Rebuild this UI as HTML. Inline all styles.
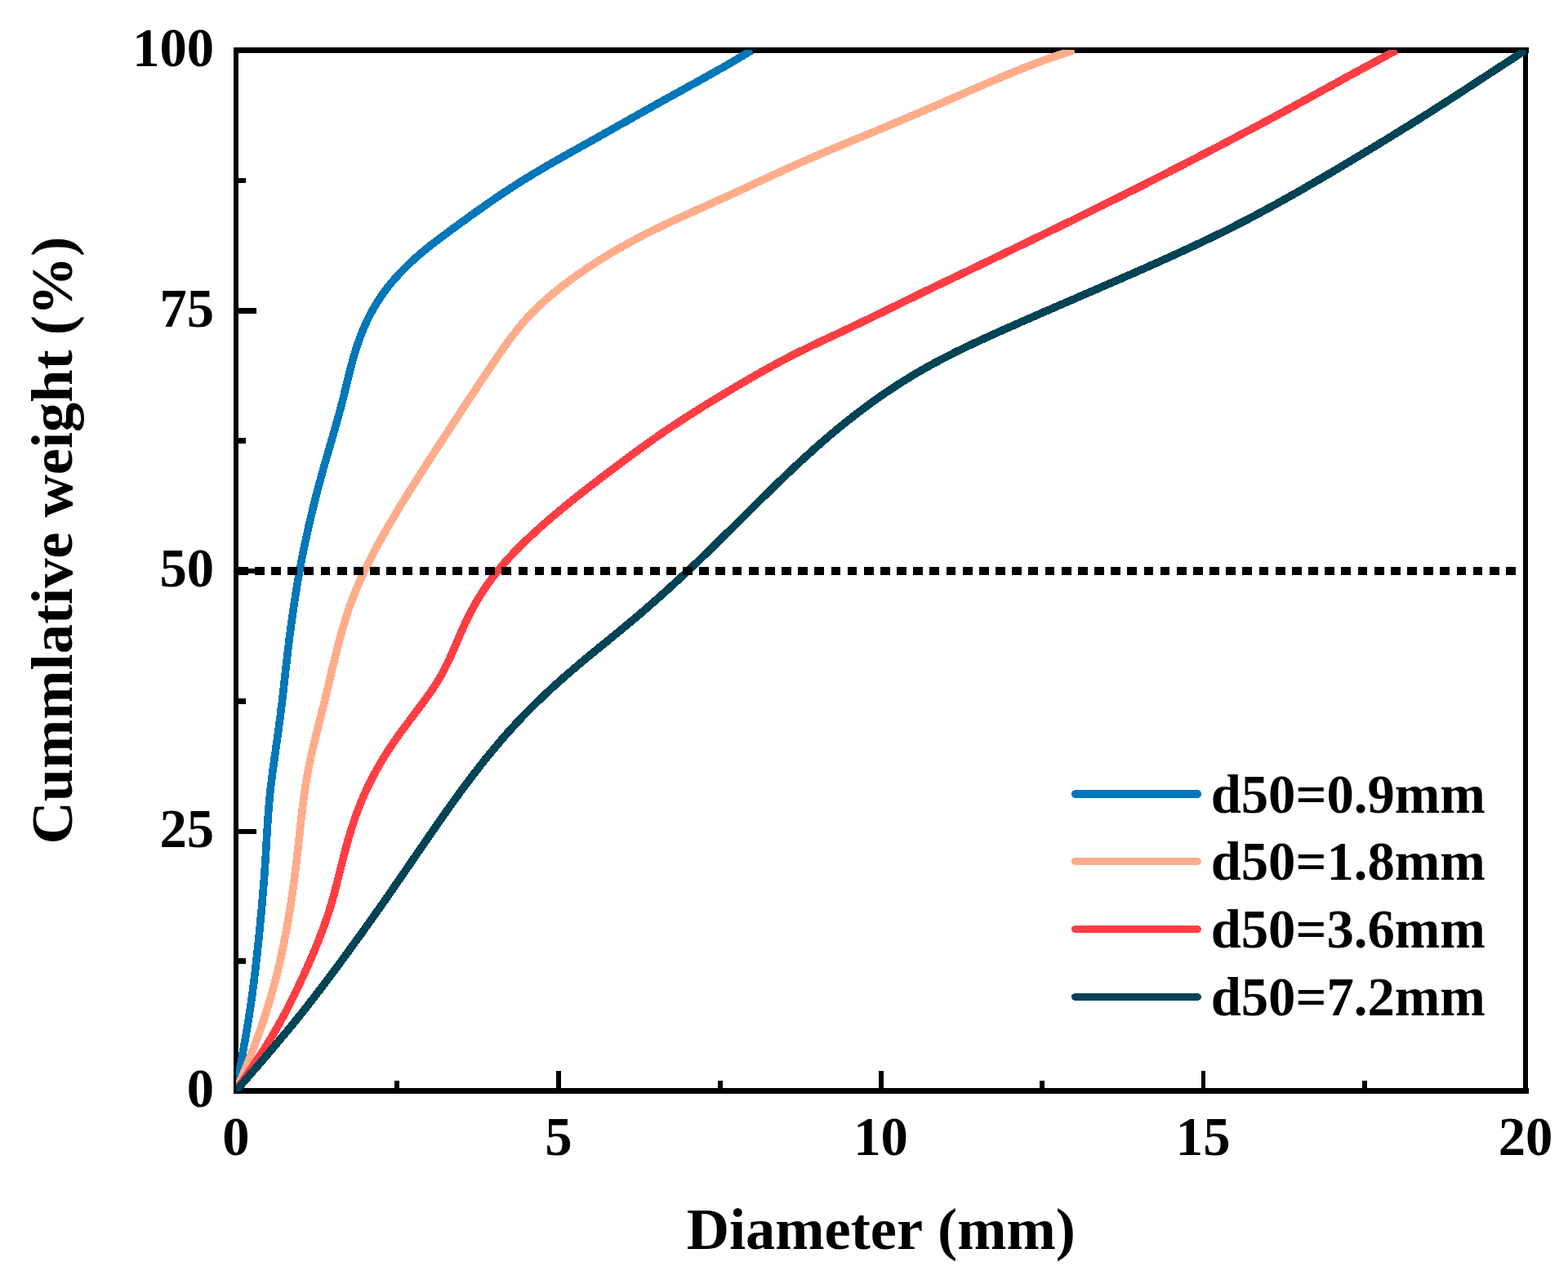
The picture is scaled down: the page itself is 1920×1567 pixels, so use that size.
<!DOCTYPE html>
<html lang="en">
<head>
<meta charset="utf-8">
<title>Cumulative weight vs diameter</title>
<style>
html,body{margin:0;padding:0;background:#fff;}
body{width:1920px;height:1567px;overflow:hidden;font-family:"Liberation Serif",serif;}
svg{display:block;}
</style>
</head>
<body>
<svg width="1920" height="1567" viewBox="0 0 1920 1567" role="img" aria-label="Cumulative weight versus particle diameter">
<defs><clipPath id="plot"><rect x="289" y="61" width="1580" height="1275"/></clipPath></defs>
<rect width="1920" height="1567" fill="#fff"/>
<g fill="#000" shape-rendering="crispEdges">
<rect x="286" y="58" width="1586" height="7"/>
<rect x="286" y="1332" width="1586" height="7"/>
<rect x="286" y="58" width="6" height="1281"/>
<rect x="1865" y="58" width="6" height="1281"/>
<rect x="483" y="1323" width="6" height="9"/>
<rect x="681" y="1311" width="6" height="21"/>
<rect x="879" y="1323" width="6" height="9"/>
<rect x="1076" y="1311" width="6" height="21"/>
<rect x="1273" y="1323" width="6" height="9"/>
<rect x="1471" y="1311" width="5" height="21"/>
<rect x="1668" y="1323" width="6" height="9"/>
<rect x="292" y="1173" width="9" height="7"/>
<rect x="292" y="1015" width="22" height="6"/>
<rect x="292" y="855" width="9" height="7"/>
<rect x="292" y="696" width="22" height="6"/>
<rect x="292" y="536" width="9" height="7"/>
<rect x="292" y="377" width="22" height="7"/>
<rect x="292" y="218" width="9" height="6"/>
</g>
<g clip-path="url(#plot)" fill="none" stroke-width="9.6" stroke-linejoin="round" stroke-linecap="butt" shape-rendering="crispEdges">
<path d="M287.6 1343.4 L289.0 1335.5 L290.0 1329.6 L291.1 1323.7 L292.1 1317.8 L293.2 1311.9 L294.2 1306.0 L295.3 1300.1 L296.4 1294.2 L297.4 1288.2 L298.5 1282.3 L299.5 1276.4 L300.6 1270.5 L301.6 1264.6 L302.6 1258.7 L303.6 1252.8 L304.5 1246.8 L305.4 1240.9 L306.4 1235.0 L307.2 1229.1 L308.1 1223.1 L308.9 1217.2 L309.7 1211.2 L310.5 1205.3 L311.2 1199.3 L311.9 1193.4 L312.6 1187.4 L313.3 1181.5 L314.0 1175.5 L314.7 1169.5 L315.3 1163.6 L315.9 1157.6 L316.6 1151.6 L317.2 1145.7 L317.8 1139.7 L318.4 1133.7 L318.9 1127.8 L319.5 1121.8 L320.1 1115.8 L320.6 1109.8 L321.1 1103.9 L321.6 1097.9 L322.1 1091.9 L322.6 1085.9 L323.1 1080.0 L323.5 1074.0 L324.0 1068.0 L324.4 1062.0 L324.8 1056.0 L325.2 1050.0 L325.5 1044.0 L325.9 1038.0 L326.2 1032.0 L326.6 1026.1 L326.9 1020.1 L327.3 1014.1 L327.7 1008.1 L328.1 1002.1 L328.5 996.1 L329.0 990.1 L329.5 984.2 L330.0 978.2 L330.6 972.2 L331.2 966.2 L331.9 960.3 L332.6 954.3 L333.4 948.4 L334.1 942.4 L335.0 936.5 L335.8 930.6 L336.6 924.6 L337.5 918.7 L338.3 912.7 L339.2 906.8 L340.0 900.9 L340.8 894.9 L341.6 889.0 L342.4 883.0 L343.2 877.1 L343.9 871.1 L344.6 865.1 L345.4 859.2 L346.1 853.2 L346.8 847.3 L347.4 841.3 L348.1 835.3 L348.8 829.4 L349.4 823.4 L350.1 817.5 L350.8 811.5 L351.5 805.5 L352.2 799.6 L352.9 793.6 L353.6 787.7 L354.3 781.7 L355.1 775.8 L355.9 769.8 L356.7 763.9 L357.5 757.9 L358.3 752.0 L359.2 746.1 L360.1 740.1 L361.0 734.2 L361.9 728.3 L362.9 722.4 L363.8 716.5 L364.8 710.5 L365.9 704.6 L366.9 698.7 L368.0 692.8 L369.1 686.9 L370.2 681.0 L371.4 675.2 L372.6 669.3 L373.8 663.4 L375.1 657.5 L376.4 651.7 L377.7 645.8 L379.0 640.0 L380.4 634.1 L381.8 628.3 L383.2 622.4 L384.6 616.6 L386.1 610.8 L387.6 605.0 L389.1 599.2 L390.6 593.4 L392.2 587.6 L393.8 581.8 L395.4 576.0 L397.0 570.2 L398.7 564.5 L400.3 558.7 L402.0 552.9 L403.7 547.2 L405.4 541.4 L407.0 535.6 L408.7 529.9 L410.3 524.1 L411.9 518.4 L413.6 512.6 L415.2 506.8 L416.7 501.0 L418.2 495.2 L419.8 489.4 L421.2 483.6 L422.6 477.7 L424.1 471.9 L425.5 466.1 L426.9 460.2 L428.4 454.4 L429.9 448.6 L431.4 442.8 L433.0 437.1 L434.7 431.3 L436.5 425.6 L438.4 419.9 L440.4 414.3 L442.6 408.6 L444.8 403.1 L447.2 397.6 L449.8 392.1 L452.4 386.8 L455.2 381.4 L458.2 376.2 L461.3 371.1 L464.5 366.0 L467.8 361.1 L471.3 356.2 L475.0 351.4 L478.7 346.7 L482.6 342.2 L486.6 337.7 L490.7 333.3 L494.9 329.0 L499.1 324.8 L503.5 320.6 L507.9 316.6 L512.4 312.6 L517.0 308.8 L521.6 304.9 L526.3 301.2 L531.0 297.5 L535.8 293.9 L540.6 290.2 L545.4 286.6 L550.2 283.1 L555.1 279.5 L560.0 276.0 L564.8 272.5 L569.7 268.9 L574.5 265.4 L579.4 261.9 L584.3 258.4 L589.2 255.0 L594.1 251.5 L599.0 248.1 L603.9 244.7 L608.9 241.3 L613.8 237.9 L618.8 234.6 L623.8 231.3 L628.9 228.1 L633.9 224.8 L639.0 221.6 L644.1 218.5 L649.2 215.3 L654.3 212.2 L659.5 209.2 L664.6 206.1 L669.8 203.1 L675.0 200.1 L680.2 197.1 L685.5 194.2 L690.7 191.2 L695.9 188.2 L701.2 185.3 L706.4 182.4 L711.7 179.4 L716.9 176.5 L722.1 173.6 L727.4 170.7 L732.6 167.7 L737.8 164.8 L743.1 161.8 L748.3 158.9 L753.5 156.0 L758.7 153.0 L764.0 150.1 L769.2 147.2 L774.4 144.2 L779.6 141.3 L784.9 138.3 L790.1 135.4 L795.3 132.5 L800.6 129.5 L805.8 126.6 L811.0 123.7 L816.3 120.8 L821.5 117.9 L826.8 115.0 L832.0 112.1 L837.3 109.2 L842.5 106.3 L847.8 103.4 L853.1 100.5 L858.3 97.6 L863.6 94.7 L868.8 91.7 L874.0 88.8 L879.3 85.8 L884.5 82.9 L889.7 79.9 L894.9 76.9 L900.1 73.9 L905.2 70.8 L910.4 67.7 L915.5 64.6 L920.6 61.5" stroke="#0077B8"/>
<path d="M285.8 1342.8 L289.0 1335.5 L291.4 1330.0 L293.7 1324.5 L296.1 1319.0 L298.4 1313.5 L300.6 1307.9 L302.9 1302.4 L305.1 1296.8 L307.3 1291.3 L309.5 1285.7 L311.6 1280.1 L313.7 1274.5 L315.8 1268.9 L317.8 1263.3 L319.8 1257.6 L321.7 1252.0 L323.6 1246.3 L325.5 1240.6 L327.3 1234.9 L329.0 1229.2 L330.7 1223.5 L332.4 1217.7 L334.0 1211.9 L335.6 1206.2 L337.1 1200.4 L338.6 1194.6 L340.0 1188.8 L341.4 1182.9 L342.8 1177.1 L344.1 1171.3 L345.4 1165.4 L346.6 1159.6 L347.8 1153.7 L348.9 1147.8 L350.1 1141.9 L351.2 1136.1 L352.2 1130.2 L353.2 1124.3 L354.2 1118.4 L355.2 1112.5 L356.1 1106.6 L357.0 1100.7 L357.9 1094.8 L358.7 1088.8 L359.5 1082.9 L360.3 1077.0 L361.1 1071.0 L361.8 1065.1 L362.6 1059.2 L363.3 1053.2 L363.9 1047.3 L364.6 1041.3 L365.3 1035.4 L365.9 1029.4 L366.6 1023.5 L367.2 1017.5 L367.8 1011.6 L368.5 1005.6 L369.2 999.7 L369.9 993.7 L370.6 987.8 L371.3 981.8 L372.1 975.9 L372.9 970.0 L373.8 964.1 L374.7 958.2 L375.7 952.3 L376.7 946.4 L377.8 940.5 L379.0 934.7 L380.2 928.8 L381.5 923.0 L382.9 917.1 L384.2 911.3 L385.6 905.5 L387.1 899.7 L388.5 893.9 L390.0 888.1 L391.4 882.3 L392.9 876.5 L394.4 870.6 L395.9 864.8 L397.3 859.0 L398.7 853.2 L400.1 847.4 L401.5 841.5 L402.9 835.7 L404.3 829.9 L405.6 824.0 L407.0 818.2 L408.4 812.4 L409.8 806.5 L411.2 800.7 L412.7 794.9 L414.2 789.1 L415.7 783.4 L417.2 777.6 L418.9 771.9 L420.5 766.1 L422.3 760.4 L424.1 754.7 L425.9 749.1 L427.8 743.4 L429.9 737.8 L432.0 732.2 L434.1 726.7 L436.4 721.2 L438.7 715.7 L441.1 710.2 L443.6 704.7 L446.1 699.3 L448.7 693.9 L451.4 688.5 L454.1 683.2 L456.8 677.9 L459.6 672.5 L462.5 667.2 L465.4 662.0 L468.3 656.7 L471.3 651.5 L474.2 646.3 L477.3 641.1 L480.3 635.9 L483.4 630.8 L486.4 625.6 L489.5 620.5 L492.6 615.4 L495.8 610.3 L498.9 605.2 L502.1 600.2 L505.3 595.1 L508.5 590.1 L511.7 585.0 L514.9 580.0 L518.1 575.0 L521.4 569.9 L524.6 564.9 L527.8 559.9 L531.1 554.9 L534.3 549.9 L537.6 544.9 L540.9 539.9 L544.1 534.9 L547.4 529.9 L550.6 524.9 L553.9 519.9 L557.2 514.9 L560.5 509.9 L563.7 504.9 L567.0 499.9 L570.3 494.9 L573.6 489.9 L576.9 484.9 L580.2 479.9 L583.5 474.9 L586.8 469.9 L590.1 464.9 L593.5 459.9 L596.8 454.9 L600.1 450.0 L603.5 445.0 L606.9 440.0 L610.2 435.1 L613.7 430.1 L617.1 425.2 L620.6 420.4 L624.1 415.6 L627.7 410.8 L631.4 406.1 L635.1 401.4 L638.9 396.8 L642.8 392.3 L646.8 387.9 L650.9 383.5 L655.1 379.3 L659.4 375.1 L663.8 371.0 L668.2 367.0 L672.7 363.0 L677.3 359.2 L682.0 355.4 L686.6 351.6 L691.4 348.0 L696.2 344.4 L701.0 340.8 L705.9 337.3 L710.8 333.9 L715.8 330.5 L720.7 327.1 L725.7 323.9 L730.7 320.6 L735.8 317.4 L740.9 314.3 L746.0 311.2 L751.1 308.1 L756.3 305.1 L761.4 302.2 L766.6 299.3 L771.9 296.4 L777.1 293.6 L782.4 290.8 L787.7 288.0 L793.1 285.3 L798.4 282.6 L803.8 280.0 L809.2 277.4 L814.6 274.8 L820.0 272.3 L825.4 269.7 L830.9 267.2 L836.3 264.7 L841.8 262.2 L847.2 259.8 L852.7 257.3 L858.1 254.8 L863.6 252.4 L869.1 249.9 L874.5 247.5 L880.0 245.0 L885.5 242.5 L890.9 240.1 L896.4 237.6 L901.8 235.1 L907.2 232.6 L912.6 230.1 L918.1 227.6 L923.5 225.0 L928.9 222.5 L934.4 220.0 L939.8 217.5 L945.2 215.0 L950.6 212.5 L956.1 210.0 L961.5 207.6 L967.0 205.1 L972.4 202.7 L977.9 200.2 L983.3 197.8 L988.8 195.4 L994.3 193.0 L999.8 190.7 L1005.3 188.3 L1010.8 186.0 L1016.3 183.6 L1021.8 181.3 L1027.3 179.0 L1032.9 176.7 L1038.4 174.4 L1043.9 172.1 L1049.5 169.8 L1055.0 167.5 L1060.5 165.2 L1066.1 162.9 L1071.6 160.7 L1077.1 158.4 L1082.7 156.1 L1088.2 153.8 L1093.7 151.4 L1099.2 149.1 L1104.8 146.8 L1110.2 144.5 L1115.8 142.1 L1121.3 139.8 L1126.8 137.4 L1132.2 135.1 L1137.8 132.7 L1143.2 130.3 L1148.7 128.0 L1154.2 125.6 L1159.7 123.2 L1165.2 120.8 L1170.7 118.5 L1176.2 116.1 L1181.7 113.7 L1187.1 111.3 L1192.6 108.9 L1198.1 106.5 L1203.6 104.2 L1209.1 101.8 L1214.6 99.4 L1220.1 97.1 L1225.6 94.7 L1231.1 92.4 L1236.7 90.1 L1242.2 87.8 L1247.8 85.6 L1253.3 83.3 L1258.9 81.2 L1264.5 79.0 L1270.0 76.9 L1275.6 74.8 L1281.3 72.7 L1286.9 70.7 L1292.5 68.8 L1298.2 66.9 L1303.9 65.0 L1309.6 63.2 L1315.3 61.5" stroke="#FFAC8B"/>
<path d="M284.4 1342.1 L289.0 1335.5 L292.4 1330.6 L295.8 1325.7 L299.2 1320.8 L302.6 1315.8 L305.9 1310.8 L309.3 1305.9 L312.6 1300.9 L315.9 1295.9 L319.2 1290.8 L322.5 1285.8 L325.7 1280.7 L328.8 1275.6 L332.0 1270.5 L335.0 1265.3 L338.1 1260.1 L341.0 1254.9 L343.9 1249.7 L346.8 1244.4 L349.6 1239.2 L352.4 1233.8 L355.1 1228.5 L357.8 1223.2 L360.4 1217.8 L363.1 1212.4 L365.6 1207.0 L368.2 1201.6 L370.7 1196.1 L373.2 1190.7 L375.6 1185.2 L378.1 1179.7 L380.5 1174.2 L382.9 1168.7 L385.2 1163.2 L387.5 1157.6 L389.7 1152.1 L391.9 1146.5 L394.1 1140.9 L396.2 1135.3 L398.2 1129.6 L400.1 1124.0 L402.0 1118.3 L403.9 1112.6 L405.6 1106.8 L407.2 1101.1 L408.9 1095.3 L410.4 1089.5 L411.9 1083.8 L413.4 1078.0 L414.9 1072.1 L416.3 1066.3 L417.8 1060.5 L419.2 1054.7 L420.7 1048.9 L422.2 1043.1 L423.7 1037.3 L425.3 1031.5 L427.0 1025.7 L428.7 1020.0 L430.4 1014.2 L432.3 1008.5 L434.2 1002.8 L436.2 997.2 L438.3 991.5 L440.5 986.0 L442.7 980.4 L445.1 974.9 L447.5 969.4 L450.0 964.0 L452.6 958.6 L455.3 953.2 L458.1 947.9 L460.9 942.7 L463.9 937.5 L466.9 932.3 L470.0 927.2 L473.2 922.1 L476.5 917.1 L479.8 912.1 L483.2 907.1 L486.6 902.2 L490.1 897.3 L493.6 892.4 L497.2 887.6 L500.8 882.8 L504.4 878.0 L508.1 873.2 L511.7 868.4 L515.3 863.6 L518.9 858.8 L522.4 854.0 L525.9 849.1 L529.3 844.2 L532.6 839.2 L535.8 834.2 L538.9 829.1 L541.8 823.9 L544.6 818.6 L547.2 813.3 L549.8 807.9 L552.3 802.4 L554.7 796.9 L557.1 791.4 L559.5 785.9 L561.9 780.3 L564.3 774.8 L566.7 769.3 L569.2 763.8 L571.8 758.4 L574.4 753.0 L577.2 747.6 L580.1 742.4 L583.0 737.2 L586.1 732.0 L589.3 727.0 L592.5 722.0 L595.9 717.0 L599.4 712.1 L602.9 707.3 L606.6 702.6 L610.3 697.9 L614.1 693.3 L618.0 688.8 L622.0 684.3 L626.0 679.9 L630.1 675.5 L634.3 671.2 L638.6 667.0 L642.9 662.8 L647.2 658.7 L651.6 654.6 L656.0 650.5 L660.5 646.5 L665.0 642.5 L669.5 638.6 L674.0 634.6 L678.6 630.8 L683.2 626.9 L687.8 623.1 L692.4 619.3 L697.1 615.5 L701.8 611.7 L706.4 608.0 L711.1 604.3 L715.8 600.6 L720.6 596.9 L725.3 593.2 L730.1 589.6 L734.8 585.9 L739.6 582.3 L744.4 578.7 L749.1 575.1 L754.0 571.5 L758.8 567.9 L763.5 564.3 L768.4 560.7 L773.2 557.2 L778.0 553.6 L782.9 550.1 L787.7 546.6 L792.6 543.1 L797.5 539.6 L802.4 536.1 L807.3 532.7 L812.2 529.3 L817.2 525.9 L822.2 522.6 L827.2 519.3 L832.2 516.0 L837.2 512.7 L842.2 509.5 L847.3 506.3 L852.4 503.1 L857.5 499.9 L862.5 496.7 L867.6 493.6 L872.8 490.5 L877.9 487.4 L883.0 484.3 L888.1 481.2 L893.3 478.1 L898.5 475.0 L903.6 471.9 L908.8 468.9 L914.0 465.9 L919.1 462.9 L924.3 459.9 L929.5 456.9 L934.8 454.0 L940.0 451.1 L945.2 448.2 L950.5 445.3 L955.8 442.5 L961.1 439.7 L966.4 436.9 L971.8 434.2 L977.1 431.5 L982.5 428.9 L987.9 426.3 L993.3 423.6 L998.7 421.1 L1004.1 418.5 L1009.5 415.9 L1015.0 413.4 L1020.4 410.9 L1025.8 408.3 L1031.3 405.8 L1036.7 403.2 L1042.1 400.7 L1047.5 398.1 L1052.9 395.5 L1058.3 392.9 L1063.7 390.3 L1069.1 387.7 L1074.5 385.1 L1079.9 382.5 L1085.3 379.8 L1090.7 377.2 L1096.1 374.6 L1101.5 371.9 L1106.8 369.3 L1112.2 366.7 L1117.6 364.1 L1123.0 361.4 L1128.4 358.8 L1133.8 356.2 L1139.2 353.6 L1144.6 351.0 L1150.0 348.4 L1155.4 345.8 L1160.8 343.2 L1166.2 340.7 L1171.6 338.1 L1177.0 335.5 L1182.5 332.9 L1187.9 330.3 L1193.3 327.7 L1198.7 325.1 L1204.1 322.5 L1209.5 319.9 L1214.9 317.3 L1220.3 314.7 L1225.7 312.1 L1231.1 309.5 L1236.5 306.9 L1241.9 304.3 L1247.3 301.7 L1252.7 299.1 L1258.1 296.4 L1263.5 293.8 L1268.8 291.2 L1274.2 288.6 L1279.6 286.0 L1285.0 283.3 L1290.4 280.7 L1295.8 278.1 L1301.2 275.4 L1306.5 272.8 L1311.9 270.2 L1317.3 267.5 L1322.7 264.9 L1328.1 262.2 L1333.4 259.6 L1338.8 256.9 L1344.2 254.2 L1349.6 251.6 L1354.9 248.9 L1360.3 246.2 L1365.7 243.6 L1371.0 240.9 L1376.4 238.2 L1381.7 235.5 L1387.1 232.9 L1392.5 230.2 L1397.8 227.5 L1403.2 224.8 L1408.5 222.1 L1413.9 219.4 L1419.2 216.7 L1424.5 213.9 L1429.9 211.2 L1435.2 208.5 L1440.6 205.8 L1445.9 203.1 L1451.2 200.3 L1456.6 197.6 L1461.9 194.8 L1467.2 192.1 L1472.5 189.3 L1477.9 186.6 L1483.2 183.8 L1488.5 181.0 L1493.8 178.3 L1499.1 175.5 L1504.4 172.7 L1509.7 169.9 L1515.0 167.1 L1520.3 164.3 L1525.6 161.5 L1530.9 158.7 L1536.2 155.9 L1541.5 153.1 L1546.8 150.2 L1552.1 147.4 L1557.4 144.6 L1562.7 141.7 L1567.9 138.9 L1573.2 136.0 L1578.5 133.2 L1583.7 130.3 L1589.0 127.4 L1594.3 124.5 L1599.5 121.7 L1604.8 118.8 L1610.0 115.9 L1615.3 113.0 L1620.5 110.1 L1625.8 107.2 L1631.1 104.4 L1636.3 101.5 L1641.6 98.6 L1646.8 95.7 L1652.1 92.8 L1657.3 90.0 L1662.6 87.1 L1667.9 84.2 L1673.1 81.4 L1678.4 78.5 L1683.7 75.7 L1689.0 72.8 L1694.2 70.0 L1699.5 67.1 L1704.8 64.3 L1710.1 61.5" stroke="#FF3E44"/>
<path d="M283.8 1341.6 L289.0 1335.5 L292.9 1331.0 L296.8 1326.4 L300.7 1321.9 L304.6 1317.4 L308.6 1312.8 L312.5 1308.3 L316.4 1303.8 L320.3 1299.3 L324.2 1294.7 L328.1 1290.2 L332.0 1285.6 L335.9 1281.1 L339.7 1276.5 L343.6 1271.9 L347.4 1267.3 L351.2 1262.7 L355.0 1258.1 L358.8 1253.5 L362.6 1248.8 L366.3 1244.2 L370.1 1239.5 L373.8 1234.8 L377.4 1230.1 L381.1 1225.4 L384.8 1220.6 L388.4 1215.9 L392.1 1211.1 L395.7 1206.4 L399.3 1201.6 L402.9 1196.8 L406.5 1192.0 L410.1 1187.2 L413.6 1182.4 L417.2 1177.6 L420.7 1172.8 L424.3 1168.0 L427.8 1163.1 L431.3 1158.3 L434.8 1153.4 L438.4 1148.6 L441.9 1143.7 L445.4 1138.9 L448.8 1134.0 L452.3 1129.1 L455.8 1124.3 L459.2 1119.4 L462.7 1114.5 L466.1 1109.6 L469.6 1104.7 L473.0 1099.8 L476.4 1094.9 L479.8 1090.0 L483.2 1085.0 L486.6 1080.1 L490.0 1075.2 L493.4 1070.3 L496.8 1065.3 L500.2 1060.4 L503.6 1055.5 L506.9 1050.5 L510.3 1045.6 L513.7 1040.7 L517.1 1035.8 L520.5 1030.8 L523.9 1025.9 L527.3 1021.0 L530.7 1016.1 L534.1 1011.1 L537.5 1006.2 L540.9 1001.3 L544.4 996.5 L547.9 991.6 L551.3 986.7 L554.8 981.8 L558.3 977.0 L561.8 972.1 L565.4 967.3 L568.9 962.5 L572.5 957.7 L576.1 952.9 L579.8 948.1 L583.4 943.4 L587.1 938.6 L590.8 933.9 L594.5 929.2 L598.3 924.6 L602.1 920.0 L605.9 915.4 L609.7 910.8 L613.6 906.2 L617.5 901.7 L621.5 897.2 L625.5 892.8 L629.5 888.4 L633.6 884.0 L637.7 879.6 L641.8 875.3 L646.0 871.1 L650.2 866.8 L654.5 862.6 L658.8 858.4 L663.1 854.3 L667.4 850.2 L671.8 846.1 L676.2 842.0 L680.6 838.0 L685.1 834.0 L689.6 830.0 L694.1 826.1 L698.6 822.2 L703.1 818.3 L707.7 814.4 L712.3 810.6 L716.9 806.7 L721.5 802.9 L726.1 799.1 L730.8 795.3 L735.4 791.5 L740.0 787.8 L744.7 784.0 L749.3 780.2 L753.9 776.4 L758.6 772.6 L763.2 768.8 L767.8 765.0 L772.4 761.2 L777.0 757.3 L781.5 753.5 L786.1 749.6 L790.6 745.6 L795.1 741.7 L799.6 737.8 L804.1 733.8 L808.6 729.8 L813.0 725.9 L817.5 721.8 L821.9 717.8 L826.3 713.8 L830.7 709.7 L835.1 705.6 L839.5 701.6 L843.9 697.5 L848.2 693.4 L852.6 689.2 L856.9 685.1 L861.2 681.0 L865.5 676.8 L869.8 672.6 L874.1 668.5 L878.4 664.3 L882.6 660.1 L886.9 655.9 L891.1 651.7 L895.4 647.5 L899.6 643.3 L903.9 639.0 L908.1 634.8 L912.4 630.6 L916.6 626.4 L920.9 622.2 L925.1 618.0 L929.4 613.8 L933.6 609.6 L937.9 605.4 L942.2 601.2 L946.5 597.0 L950.8 592.9 L955.1 588.7 L959.4 584.5 L963.7 580.4 L968.1 576.3 L972.4 572.2 L976.8 568.1 L981.2 564.0 L985.6 560.0 L990.0 556.0 L994.5 552.0 L998.9 548.0 L1003.4 544.0 L1007.9 540.1 L1012.5 536.2 L1017.0 532.3 L1021.6 528.5 L1026.2 524.6 L1030.8 520.9 L1035.5 517.1 L1040.2 513.4 L1044.9 509.7 L1049.6 506.0 L1054.4 502.4 L1059.2 498.8 L1064.0 495.2 L1068.8 491.7 L1073.7 488.3 L1078.6 484.8 L1083.5 481.4 L1088.5 478.1 L1093.5 474.8 L1098.5 471.5 L1103.5 468.3 L1108.6 465.1 L1113.7 462.0 L1118.8 458.9 L1124.0 455.8 L1129.1 452.8 L1134.3 449.9 L1139.6 447.0 L1144.8 444.1 L1150.1 441.3 L1155.4 438.5 L1160.7 435.8 L1166.1 433.1 L1171.4 430.4 L1176.8 427.8 L1182.2 425.2 L1187.6 422.6 L1193.0 420.1 L1198.5 417.5 L1203.9 415.0 L1209.3 412.5 L1214.8 410.1 L1220.3 407.6 L1225.7 405.1 L1231.2 402.7 L1236.7 400.3 L1242.2 397.9 L1247.6 395.4 L1253.1 393.0 L1258.6 390.6 L1264.1 388.2 L1269.6 385.8 L1275.0 383.4 L1280.5 381.0 L1286.0 378.7 L1291.5 376.3 L1297.0 373.9 L1302.5 371.5 L1308.0 369.1 L1313.5 366.8 L1318.9 364.4 L1324.4 362.0 L1329.9 359.7 L1335.4 357.3 L1340.9 354.9 L1346.4 352.5 L1351.9 350.1 L1357.3 347.8 L1362.8 345.4 L1368.3 343.0 L1373.8 340.6 L1379.3 338.2 L1384.8 335.8 L1390.2 333.4 L1395.7 331.0 L1401.2 328.6 L1406.6 326.1 L1412.1 323.7 L1417.6 321.3 L1423.0 318.8 L1428.5 316.4 L1433.9 313.9 L1439.4 311.4 L1444.8 308.9 L1450.3 306.4 L1455.7 303.9 L1461.1 301.4 L1466.5 298.8 L1472.0 296.3 L1477.3 293.7 L1482.7 291.1 L1488.1 288.5 L1493.5 285.9 L1498.9 283.2 L1504.2 280.6 L1509.6 277.9 L1514.9 275.1 L1520.2 272.4 L1525.5 269.7 L1530.9 266.9 L1536.2 264.1 L1541.4 261.3 L1546.7 258.5 L1552.0 255.6 L1557.2 252.8 L1562.5 249.9 L1567.7 247.0 L1572.9 244.1 L1578.2 241.2 L1583.4 238.2 L1588.6 235.3 L1593.8 232.3 L1599.0 229.3 L1604.1 226.3 L1609.3 223.3 L1614.5 220.3 L1619.7 217.3 L1624.8 214.3 L1630.0 211.3 L1635.1 208.2 L1640.3 205.2 L1645.4 202.1 L1650.6 199.0 L1655.7 196.0 L1660.8 192.9 L1666.0 189.8 L1671.1 186.7 L1676.2 183.6 L1681.3 180.5 L1686.4 177.4 L1691.5 174.3 L1696.7 171.2 L1701.8 168.1 L1706.8 164.9 L1712.0 161.8 L1717.0 158.6 L1722.1 155.5 L1727.2 152.3 L1732.3 149.1 L1737.3 146.0 L1742.4 142.8 L1747.5 139.6 L1752.5 136.4 L1757.6 133.2 L1762.6 129.9 L1767.7 126.7 L1772.7 123.5 L1777.7 120.2 L1782.7 117.0 L1787.8 113.7 L1792.8 110.5 L1797.8 107.2 L1802.8 103.9 L1807.8 100.7 L1812.8 97.4 L1817.8 94.1 L1822.8 90.8 L1827.8 87.6 L1832.8 84.3 L1837.9 81.0 L1842.9 77.7 L1847.9 74.5 L1852.9 71.2 L1857.9 68.0 L1863.0 64.7 L1868.0 61.5" stroke="#004455"/>
</g>
<g fill="#000" shape-rendering="crispEdges">
<rect x="292" y="694" width="12" height="10"/>
<rect x="312" y="694" width="12" height="10"/>
<rect x="332" y="694" width="12" height="10"/>
<rect x="352" y="694" width="12" height="10"/>
<rect x="372" y="694" width="12" height="10"/>
<rect x="393" y="694" width="11" height="10"/>
<rect x="413" y="694" width="12" height="10"/>
<rect x="433" y="694" width="12" height="10"/>
<rect x="453" y="694" width="12" height="10"/>
<rect x="473" y="694" width="12" height="10"/>
<rect x="493" y="694" width="12" height="10"/>
<rect x="514" y="694" width="11" height="10"/>
<rect x="534" y="694" width="12" height="10"/>
<rect x="554" y="694" width="12" height="10"/>
<rect x="574" y="694" width="12" height="10"/>
<rect x="594" y="694" width="12" height="10"/>
<rect x="614" y="694" width="12" height="10"/>
<rect x="635" y="694" width="11" height="10"/>
<rect x="655" y="694" width="11" height="10"/>
<rect x="675" y="694" width="12" height="10"/>
<rect x="695" y="694" width="12" height="10"/>
<rect x="715" y="694" width="12" height="10"/>
<rect x="735" y="694" width="12" height="10"/>
<rect x="755" y="694" width="12" height="10"/>
<rect x="776" y="694" width="11" height="10"/>
<rect x="796" y="694" width="12" height="10"/>
<rect x="816" y="694" width="12" height="10"/>
<rect x="836" y="694" width="12" height="10"/>
<rect x="856" y="694" width="12" height="10"/>
<rect x="876" y="694" width="12" height="10"/>
<rect x="897" y="694" width="11" height="10"/>
<rect x="917" y="694" width="12" height="10"/>
<rect x="937" y="694" width="12" height="10"/>
<rect x="957" y="694" width="12" height="10"/>
<rect x="977" y="694" width="12" height="10"/>
<rect x="997" y="694" width="12" height="10"/>
<rect x="1018" y="694" width="11" height="10"/>
<rect x="1038" y="694" width="11" height="10"/>
<rect x="1058" y="694" width="12" height="10"/>
<rect x="1078" y="694" width="12" height="10"/>
<rect x="1098" y="694" width="12" height="10"/>
<rect x="1118" y="694" width="12" height="10"/>
<rect x="1138" y="694" width="12" height="10"/>
<rect x="1159" y="694" width="11" height="10"/>
<rect x="1179" y="694" width="12" height="10"/>
<rect x="1199" y="694" width="12" height="10"/>
<rect x="1219" y="694" width="12" height="10"/>
<rect x="1239" y="694" width="12" height="10"/>
<rect x="1259" y="694" width="12" height="10"/>
<rect x="1280" y="694" width="11" height="10"/>
<rect x="1300" y="694" width="12" height="10"/>
<rect x="1320" y="694" width="12" height="10"/>
<rect x="1340" y="694" width="12" height="10"/>
<rect x="1360" y="694" width="12" height="10"/>
<rect x="1380" y="694" width="12" height="10"/>
<rect x="1401" y="694" width="11" height="10"/>
<rect x="1421" y="694" width="11" height="10"/>
<rect x="1441" y="694" width="12" height="10"/>
<rect x="1461" y="694" width="12" height="10"/>
<rect x="1481" y="694" width="12" height="10"/>
<rect x="1501" y="694" width="12" height="10"/>
<rect x="1521" y="694" width="12" height="10"/>
<rect x="1542" y="694" width="11" height="10"/>
<rect x="1562" y="694" width="12" height="10"/>
<rect x="1582" y="694" width="12" height="10"/>
<rect x="1602" y="694" width="12" height="10"/>
<rect x="1622" y="694" width="12" height="10"/>
<rect x="1642" y="694" width="12" height="10"/>
<rect x="1663" y="694" width="11" height="10"/>
<rect x="1683" y="694" width="12" height="10"/>
<rect x="1703" y="694" width="12" height="10"/>
<rect x="1723" y="694" width="12" height="10"/>
<rect x="1743" y="694" width="12" height="10"/>
<rect x="1763" y="694" width="12" height="10"/>
<rect x="1784" y="694" width="11" height="10"/>
<rect x="1804" y="694" width="11" height="10"/>
<rect x="1824" y="694" width="12" height="10"/>
<rect x="1844" y="694" width="12" height="10"/>
</g>
<g stroke-linecap="round" shape-rendering="crispEdges">
<line x1="1317.0" y1="972" x2="1466.0" y2="972" stroke="#0077B8" stroke-width="10"/>
<line x1="1316.5" y1="1054.5" x2="1466.5" y2="1054.5" stroke="#FFAC8B" stroke-width="9"/>
<line x1="1316.5" y1="1137.5" x2="1466.5" y2="1137.5" stroke="#FF3E44" stroke-width="9"/>
<line x1="1316.5" y1="1220.5" x2="1466.5" y2="1220.5" stroke="#004455" stroke-width="9"/>
</g>
<g font-family="'Liberation Serif', serif" font-weight="bold" fill="#000" font-size="66.67" style="font-kerning:none">
<text x="1482.7" y="994.5">d50=0.9mm</text>
<text x="1482.7" y="1077.3">d50=1.8mm</text>
<text x="1482.7" y="1160.1">d50=3.6mm</text>
<text x="1482.7" y="1242.9">d50=7.2mm</text>
<text x="262.2" y="1355.1" text-anchor="end">0</text>
<text x="262.2" y="1036.6" text-anchor="end">25</text>
<text x="262.2" y="718.1" text-anchor="end">50</text>
<text x="262.2" y="399.6" text-anchor="end">75</text>
<text x="262.2" y="81.1" text-anchor="end">100</text>
<text x="289.0" y="1414" text-anchor="middle">0</text>
<text x="683.8" y="1414" text-anchor="middle">5</text>
<text x="1078.5" y="1414" text-anchor="middle">10</text>
<text x="1473.2" y="1414" text-anchor="middle">15</text>
<text x="1868.0" y="1414" text-anchor="middle">20</text>
</g>
<g font-family="'Liberation Serif', serif" font-weight="bold" fill="#000" font-size="72.4" style="font-kerning:none">
<text x="1078.8" y="1528.5" text-anchor="middle">Diameter (mm)</text>
<text transform="translate(87.8 661.6) rotate(-90)" text-anchor="middle">Cummlative weight (%)</text>
</g>
</svg>
</body>
</html>
